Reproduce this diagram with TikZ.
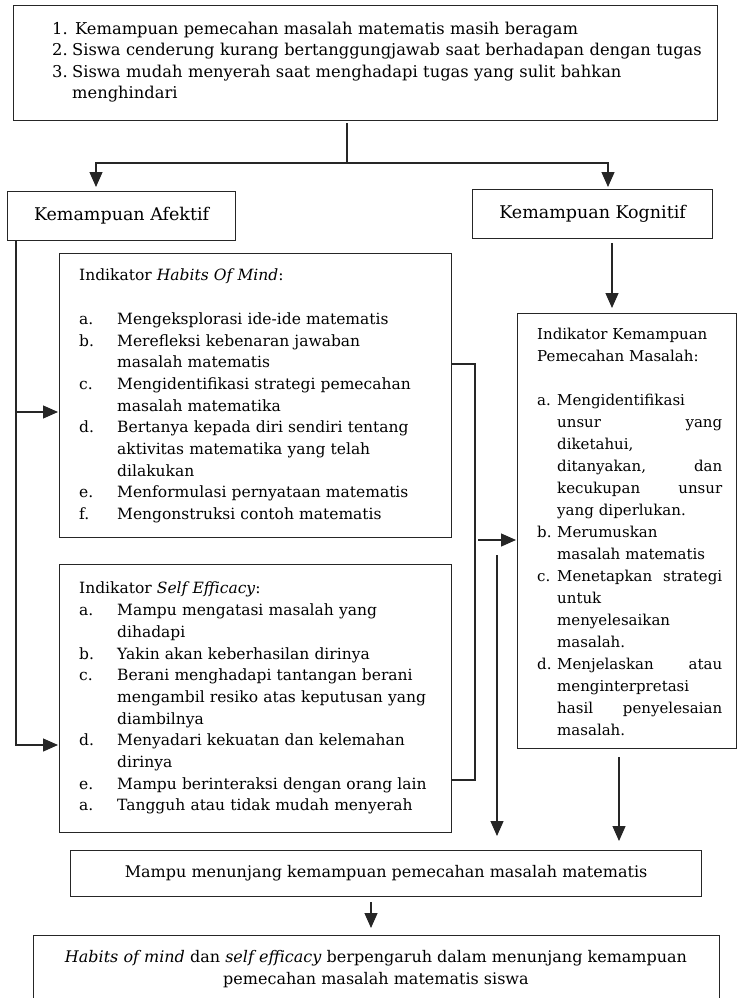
\documentclass[tikz,border=0pt]{standalone}
\usepackage{fontspec}
\setmainfont{DejaVu Serif}
\usetikzlibrary{arrows.meta}
\setlength\parindent{0pt}
\setlength\parskip{0pt}
\hyphenpenalty=10000
\newcommand{\itm}[3]{\par\noindent\hangindent=#1\hangafter=1\makebox[#1][l]{#2}#3\par}
\tikzset{
  ln/.style={draw=black!85, line width=1.2pt},
  arr/.style={ln, -{Triangle[length=15pt,width=13pt]}},
  box/.style={ln, rectangle, inner sep=0pt, anchor=north west},
  body/.style={inner sep=0pt, anchor=north west, font=\fontsize{15.5}{21.7}\selectfont},
}
\begin{document}
\begin{tikzpicture}[x=1pt,y=-1pt]
\useasboundingbox (0,0) rectangle (737,998);
\fill[white] (0,0) rectangle (737,998);

% ---------- boxes ----------
\node[box, minimum width=704pt, minimum height=115pt] (top) at (13,5) {};
\node[body, text width=660pt, font=\fontsize{16.3}{21.3}\selectfont] (topT) at (52,13)
 {\itm{20pt}{1.}{\hspace{3pt}Kemampuan pemecahan masalah matematis masih beragam}%
  \itm{20pt}{2.}{Siswa cenderung kurang bertanggungjawab saat berhadapan dengan tugas}%
  \itm{20pt}{3.}{Siswa mudah menyerah saat menghadapi tugas yang sulit bahkan\newline menghindari}};

\node[box, minimum width=228pt, minimum height=49pt, font=\fontsize{17.5}{21}\selectfont] (afektif) at (7,191) {Kemampuan Afektif};
\node[box, minimum width=240pt, minimum height=49pt, font=\fontsize{17.5}{21}\selectfont] (kognitif) at (472,189) {Kemampuan Kognitif};

\node[box, minimum width=392pt, minimum height=284pt] (habits) at (59,253) {};
\node[body, text width=370pt] (habitsT) at (79,269)
 {\noindent Indikator \textit{Habits Of Mind}:\par\vskip\baselineskip
  \itm{38pt}{a.}{Mengeksplorasi ide-ide matematis}%
  \itm{38pt}{b.}{Merefleksi kebenaran jawaban\newline masalah matematis}%
  \itm{38pt}{c.}{Mengidentifikasi strategi pemecahan\newline masalah matematika}%
  \itm{38pt}{d.}{Bertanya kepada diri sendiri tentang\newline aktivitas matematika yang telah\newline dilakukan}%
  \itm{38pt}{e.}{Menformulasi pernyataan matematis}%
  \itm{38pt}{f.}{Mengonstruksi contoh matematis}};

\node[box, minimum width=392pt, minimum height=268pt] (se) at (59,564) {};
\node[body, text width=370pt] (seT) at (79,582)
 {\noindent Indikator \textit{Self Efficacy}:%
  \itm{38pt}{a.}{Mampu mengatasi masalah yang\newline dihadapi}%
  \itm{38pt}{b.}{Yakin akan keberhasilan dirinya}%
  \itm{38pt}{c.}{Berani menghadapi tantangan berani\newline mengambil resiko atas keputusan yang\newline diambilnya}%
  \itm{38pt}{d.}{Menyadari kekuatan dan kelemahan\newline dirinya}%
  \itm{38pt}{e.}{Mampu berinteraksi dengan orang lain}%
  \itm{38pt}{a.}{Tangguh atau tidak mudah menyerah}};

\node[box, minimum width=219pt, minimum height=435pt] (prob) at (517,313) {};
\node[body, text width=185pt, font=\fontsize{15}{22}\selectfont] (probT) at (537,327.5)
 {\noindent Indikator Kemampuan\newline Pemecahan Masalah:\par\vskip\baselineskip
  \itm{20pt}{a.}{Mengidentifikasi\newline unsur\hfill yang\newline diketahui,\newline ditanyakan,\hfill dan\newline kecukupan\hfill unsur\newline yang diperlukan.}%
  \itm{20pt}{b.}{Merumuskan\newline masalah matematis}%
  \itm{20pt}{c.}{Menetapkan\hfill strategi\newline untuk\newline menyelesaikan\newline masalah.}%
  \itm{20pt}{d.}{Menjelaskan\hfill atau\newline menginterpretasi\newline hasil\hfill penyelesaian\newline masalah.}};

\node[box, minimum width=631pt, minimum height=46pt, font=\fontsize{16}{22}\selectfont] (mampu) at (70,850) {Mampu menunjang kemampuan pemecahan masalah matematis};

\node[box, minimum width=686pt, minimum height=75pt] (concl) at (33,935) {};
\node[inner sep=0pt, align=center, font=\fontsize{16}{22}\selectfont] (conclT) at (376,969)
 {\textit{Habits of mind} dan \textit{self efficacy} berpengaruh dalam menunjang kemampuan\\pemecahan masalah matematis siswa};

% ---------- connectors ----------
\coordinate (stem) at (347,123);
\coordinate (split) at (347,163);
\coordinate (aIn) at (96,187);
\coordinate (kIn) at (608,187);
\draw[ln] (stem) -- (split);
\draw[arr] (split) -| (aIn);
\draw[arr] (split) -| (kIn);

\coordinate (aOut) at (16,240);
\coordinate (aMid) at (16,412);
\coordinate (hIn) at (58,412);
\coordinate (sIn) at (58,745);
\draw[arr] (aOut) |- (sIn);
\draw[arr] (aMid) -- (hIn);

\coordinate (kOut) at (612,243);
\coordinate (pIn) at (612,308);
\draw[arr] (kOut) -- (pIn);

\coordinate (hR) at (451,364);
\coordinate (sR) at (451,780);
\coordinate (j1) at (475,364);
\coordinate (j2) at (475,780);
\draw[ln] (hR) -- (j1) -- (j2) -- (sR);
\coordinate (lkOut) at (478,540);
\coordinate (pIn2) at (516,540);
\draw[arr] (lkOut) -- (pIn2);

\coordinate (dOut) at (497,555);
\coordinate (mIn1) at (497,836);
\draw[arr] (dOut) -- (mIn1);
\coordinate (pOut) at (619,757);
\coordinate (mIn2) at (619,841);
\draw[arr] (pOut) -- (mIn2);

\coordinate (mOut) at (371,902);
\coordinate (cIn) at (371,928);
\draw[arr] (mOut) -- (cIn);
\end{tikzpicture}
\end{document}
